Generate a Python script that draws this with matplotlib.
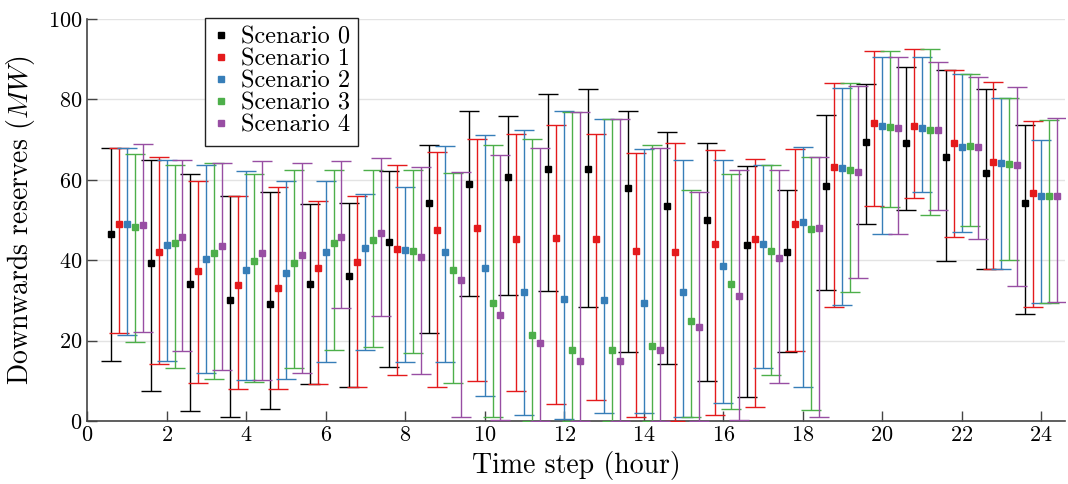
import numpy as np
import matplotlib
matplotlib.use("Agg")
import matplotlib.pyplot as plt
from matplotlib.lines import Line2D

plt.rcParams['font.family'] = 'serif'
plt.rcParams['font.serif'] = ['cmr10']
plt.rcParams['mathtext.fontset'] = 'cm'
plt.rcParams['axes.formatter.use_mathtext'] = True

hours = np.arange(1, 25)
labels = ['Scenario 0', 'Scenario 1', 'Scenario 2', 'Scenario 3', 'Scenario 4']
colors = ['#000000', '#e41a1c', '#377eb8', '#4daf4a', '#984ea3']

# scenario 0
s0_mid = [46.6, 39.3, 34.0, 30.2, 29.2, 34.0, 36.2, 44.6, 54.2, 59.0, 60.8, 62.6,
          62.6, 57.9, 53.5, 50.0, 43.9, 42.1, 58.6, 69.4, 69.2, 65.6, 61.6, 54.3]
s0_hi = [67.9, 64.9, 61.4, 56.0, 57.0, 54.0, 54.2, 62.3, 68.7, 77.1, 75.9, 81.3,
         82.7, 77.2, 72.0, 69.1, 63.4, 57.6, 76.1, 83.8, 88.0, 87.3, 82.7, 73.7]
s0_lo = [14.9, 7.4, 2.6, 1.1, 3.1, 9.3, 8.4, 13.5, 21.9, 31.2, 31.3, 32.3,
         28.4, 17.2, 14.2, 9.9, 6.1, 17.1, 32.6, 49.1, 52.6, 39.9, 37.8, 26.6]
# scenario 1
s1_mid = [49.1, 42.1, 37.3, 33.9, 33.1, 38.0, 39.5, 42.7, 47.6, 48.1, 45.4, 45.6,
          45.3, 42.3, 42.0, 44.0, 45.3, 49.1, 63.3, 74.2, 73.5, 69.1, 64.5, 56.8]
s1_hi = [67.9, 65.6, 59.7, 56.0, 58.3, 54.7, 55.9, 63.8, 66.9, 70.1, 71.4, 73.6,
         71.4, 66.8, 69.1, 67.4, 65.3, 67.8, 84.0, 92.0, 92.6, 87.3, 84.4, 74.6]
s1_lo = [21.8, 14.2, 9.4, 7.9, 8.0, 9.3, 8.4, 11.4, 8.4, 10.0, 7.6, 4.2,
         5.2, 1.1, 0.0, 1.4, 3.4, 17.5, 28.4, 53.4, 55.5, 45.7, 37.8, 28.4]
# scenario 2
s2_mid = [48.9, 43.8, 40.3, 37.7, 36.9, 42.1, 43.1, 42.5, 42.1, 38.0, 32.2, 30.3,
          30.2, 29.4, 32.2, 38.6, 44.1, 49.6, 62.9, 73.5, 72.8, 68.2, 64.2, 56.0]
s2_hi = [67.9, 65.0, 63.7, 62.2, 59.6, 59.6, 56.5, 58.2, 68.4, 71.2, 72.4, 77.1,
         75.1, 67.6, 64.9, 64.9, 63.7, 68.1, 82.8, 90.5, 90.5, 86.4, 80.4, 69.8]
s2_lo = [21.3, 15.0, 12.0, 10.1, 10.4, 14.8, 17.7, 14.8, 14.6, 6.2, 1.5, 0.5,
         2.1, 1.9, 1.0, 4.5, 13.1, 8.4, 28.8, 46.6, 56.9, 47.0, 37.8, 29.3]
# scenario 3
s3_mid = [48.4, 44.2, 41.9, 39.9, 39.3, 44.3, 45.1, 42.2, 37.5, 29.3, 21.4, 17.8,
          17.8, 18.8, 24.8, 34.2, 42.4, 47.9, 62.4, 73.2, 72.5, 68.4, 64.0, 56.0]
s3_hi = [66.4, 63.8, 64.3, 61.4, 62.5, 62.4, 62.4, 62.4, 61.8, 68.7, 70.2, 76.8,
         75.1, 68.6, 57.6, 61.4, 63.7, 65.8, 84.0, 92.0, 92.6, 86.4, 80.4, 75.0]
s3_lo = [19.6, 13.2, 10.4, 9.8, 13.2, 17.8, 18.4, 16.9, 9.4, 1.1, 0.0, 0.0,
         0.0, 0.0, 0.9, 2.9, 11.4, 2.8, 32.0, 53.3, 51.2, 48.5, 40.1, 29.3]
# scenario 4
s4_mid = [48.7, 45.9, 43.5, 41.7, 41.3, 45.9, 46.7, 40.8, 35.0, 26.5, 19.4, 15.0,
          15.0, 17.6, 23.3, 31.0, 40.6, 48.1, 62.0, 72.8, 72.3, 68.1, 63.8, 56.0]
s4_hi = [69.0, 65.0, 64.1, 64.8, 64.1, 64.6, 65.4, 63.3, 62.0, 66.3, 68.0, 76.8,
         75.1, 67.9, 56.9, 62.4, 62.5, 65.6, 83.3, 90.5, 89.3, 85.6, 83.1, 75.5]
s4_lo = [22.1, 17.4, 12.8, 10.1, 11.9, 28.1, 26.2, 11.7, 0.9, 0.3, 0.0, 0.0,
         0.0, 0.0, 0.0, 0.3, 9.5, 1.0, 35.6, 46.6, 52.6, 45.3, 33.6, 29.5]

mids = [s0_mid, s1_mid, s2_mid, s3_mid, s4_mid]
his = [s0_hi, s1_hi, s2_hi, s3_hi, s4_hi]
los = [s0_lo, s1_lo, s2_lo, s3_lo, s4_lo]
offsets = [-0.4, -0.2, 0.0, 0.2, 0.4]

fig = plt.figure(figsize=(10.68, 4.84), dpi=100)
ax = fig.add_axes([0.0815, 0.130, 0.9157, 0.8306])

for i in range(5):
    m = np.array(mids[i])
    err = [m - np.array(los[i]), np.array(his[i]) - m]
    ax.errorbar(hours + offsets[i], m, yerr=err, fmt='s', color=colors[i],
                ms=4.5, elinewidth=1.0, capsize=7, capthick=1.0, zorder=3)

ax.set_xlim(0, 24.6)
ax.set_ylim(0, 100)
ax.set_xticks(np.arange(0, 25, 2))
ax.set_yticks(np.arange(0, 101, 20))
ax.grid(axis='y', color='#e3e3e3', linewidth=1.0, zorder=0)
ax.set_axisbelow(True)
ax.spines['top'].set_visible(False)
ax.spines['right'].set_visible(False)
for s in ['left', 'bottom']:
    ax.spines[s].set_color('#444444')
    ax.spines[s].set_linewidth(1.2)
ax.tick_params(direction='in', length=7, width=1.0, color='#444444', labelsize=16)
ax.set_xlabel('Time step (hour)', fontsize=20, labelpad=4)
ax.set_ylabel('Downwards reserves ($MW$)', fontsize=20, labelpad=8)

handles = [Line2D([], [], marker='s', linestyle='none', color=c, ms=4.5) for c in colors]
leg = ax.legend(handles, labels, loc='upper left', bbox_to_anchor=(0.121, 1.003),
                borderaxespad=0, fontsize=17.5, fancybox=False, framealpha=1,
                edgecolor='#222222', labelspacing=0.0, handlelength=0.6,
                handletextpad=0.5, borderpad=0.35)
leg.get_frame().set_linewidth(1.0)

plt.savefig('out.png', dpi=100)
